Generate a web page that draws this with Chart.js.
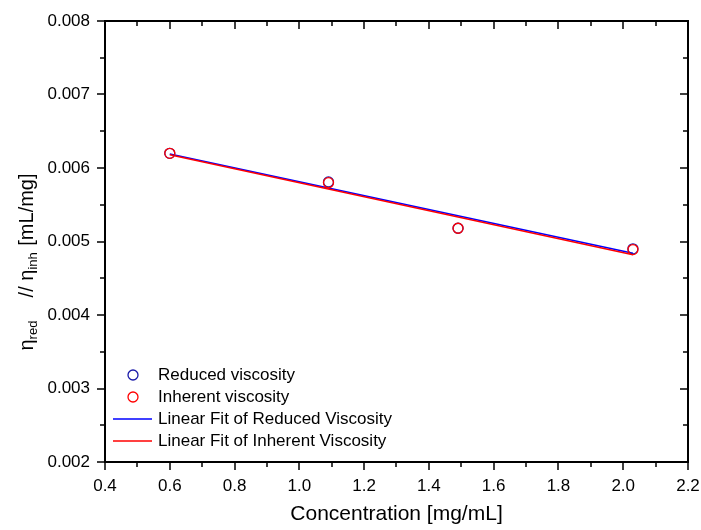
<!DOCTYPE html>
<html>
<head>
<meta charset="utf-8">
<script src="https://cdn.jsdelivr.net/npm/chart.js@4"></script>
<style>
  html, body { margin: 0; padding: 0; background: #fff; }
  #wrap { width: 701px; height: 530px; }
</style>
</head>
<body>
<div id="wrap"><canvas id="viscChart" width="701" height="530"></canvas></div>
<script>
// Datos
const concentration = [0.6, 1.09, 1.49, 2.03];
const reducedVisc = [0.00620, 0.00581, 0.00518, 0.00490];
const inherentVisc = [0.00620, 0.00580, 0.00518, 0.00489];

// Extremos de las rectas de ajuste
const fitX = [0.6, 2.03];
const reducedFit = [0.00619, 0.00484];
const inherentFit = [0.00618, 0.00482];

const xTicks = [0.4, 0.6, 0.8, 1.0, 1.2, 1.4, 1.6, 1.8, 2.0, 2.2];
const yTicks = [0.002, 0.003, 0.004, 0.005, 0.006, 0.007, 0.008];

const legendLabels = ['Reduced viscosity', 'Inherent viscosity',
    'Linear Fit of Reduced Viscosity', 'Linear Fit of Inherent Viscosity'];

const FONT = 'Arial, "Liberation Sans", sans-serif';
const BLUE = '#0000ff';
const NAVY = '#1a1aa8';
const RED = '#ff0000';

function toPoints(xs, ys) {
    return xs.map((x, i) => ({ x: x, y: ys[i] }));
}

// Marco, marcas mayores y menores en los cuatro lados
const framePlugin = {
    id: 'frame',
    afterDraw(chart) {
        const ctx = chart.ctx;
        const a = chart.chartArea;
        const xs = chart.scales.x, ys = chart.scales.y;
        ctx.save();
        ctx.strokeStyle = '#000';
        ctx.lineWidth = 2;
        ctx.strokeRect(a.left, a.top, a.right - a.left, a.bottom - a.top);

        const major = 8, minor = 5;
        ctx.lineWidth = 1.5;
        ctx.beginPath();
        xTicks.forEach((v, i) => {
            const px = Math.round(xs.getPixelForValue(v));
            ctx.moveTo(px, a.bottom); ctx.lineTo(px, a.bottom + major);
            ctx.moveTo(px, a.top); ctx.lineTo(px, a.top + major);
            if (i < xTicks.length - 1) {
                const mx = Math.round(xs.getPixelForValue((v + xTicks[i + 1]) / 2));
                ctx.moveTo(mx, a.bottom); ctx.lineTo(mx, a.bottom + minor);
                ctx.moveTo(mx, a.top); ctx.lineTo(mx, a.top + minor);
            }
        });
        yTicks.forEach((v, i) => {
            const py = Math.round(ys.getPixelForValue(v));
            ctx.moveTo(a.left, py); ctx.lineTo(a.left - major, py);
            ctx.moveTo(a.right, py); ctx.lineTo(a.right - major, py);
            if (i < yTicks.length - 1) {
                const my = Math.round(ys.getPixelForValue((v + yTicks[i + 1]) / 2));
                ctx.moveTo(a.left, my); ctx.lineTo(a.left - minor, my);
                ctx.moveTo(a.right, my); ctx.lineTo(a.right - minor, my);
            }
        });
        ctx.stroke();
        ctx.restore();
    }
};

// Leyenda dentro del área del gráfico (abajo a la izquierda)
const legendPlugin = {
    id: 'innerLegend',
    afterDraw(chart) {
        const ctx = chart.ctx;
        const a = chart.chartArea;
        const x0 = a.left;
        const rowY = [a.bottom - 87, a.bottom - 65, a.bottom - 43, a.bottom - 21];
        ctx.save();
        ctx.lineWidth = 1.3;
        ctx.strokeStyle = NAVY;
        ctx.beginPath(); ctx.arc(x0 + 28, rowY[0], 5, 0, Math.PI * 2); ctx.stroke();
        ctx.strokeStyle = RED;
        ctx.beginPath(); ctx.arc(x0 + 28, rowY[1], 5, 0, Math.PI * 2); ctx.stroke();
        ctx.lineWidth = 1.5;
        ctx.strokeStyle = BLUE;
        ctx.beginPath(); ctx.moveTo(x0 + 8, rowY[2]); ctx.lineTo(x0 + 47, rowY[2]); ctx.stroke();
        ctx.strokeStyle = RED;
        ctx.beginPath(); ctx.moveTo(x0 + 8, rowY[3]); ctx.lineTo(x0 + 47, rowY[3]); ctx.stroke();

        ctx.fillStyle = '#000';
        ctx.font = '17px ' + FONT;
        ctx.textBaseline = 'middle';
        ctx.textAlign = 'left';
        legendLabels.forEach((t, i) => ctx.fillText(t, x0 + 53, rowY[i]));
        ctx.restore();
    }
};

// Título del eje Y con subíndices
const yTitlePlugin = {
    id: 'yTitle',
    afterDraw(chart) {
        const ctx = chart.ctx;
        const parts = [
            { t: 'η', sub: false },
            { t: 'red', sub: true },
            { t: '    // η', sub: false },
            { t: 'inh', sub: true },
            { t: ' [mL/mg]', sub: false }
        ];
        const big = '20px ' + FONT, small = '13px ' + FONT;
        ctx.save();
        ctx.fillStyle = '#000';
        ctx.textBaseline = 'alphabetic';
        ctx.textAlign = 'left';
        let total = 0;
        parts.forEach(p => { ctx.font = p.sub ? small : big; total += ctx.measureText(p.t).width + (p.sub ? 1 : 0); });
        const cy = 262;
        ctx.translate(33, cy + total / 2);
        ctx.rotate(-Math.PI / 2);
        let u = 0;
        parts.forEach(p => {
            ctx.font = p.sub ? small : big;
            ctx.fillText(p.t, u, p.sub ? 4 : 0);
            u += ctx.measureText(p.t).width + (p.sub ? 1 : 0);
        });
        ctx.restore();
    }
};

const viscChart = new Chart(document.getElementById('viscChart'), {
    type: 'scatter',
    data: {
        datasets: [{
            label: 'Linear Fit of Reduced Viscosity',
            data: toPoints(fitX, reducedFit),
            showLine: true,
            borderColor: BLUE,
            borderWidth: 1.5,
            pointRadius: 0,
            order: 4
        }, {
            label: 'Linear Fit of Inherent Viscosity',
            data: toPoints(fitX, inherentFit),
            showLine: true,
            borderColor: RED,
            borderWidth: 1.5,
            pointRadius: 0,
            order: 3
        }, {
            label: 'Reduced viscosity',
            data: toPoints(concentration, reducedVisc),
            borderColor: NAVY,
            backgroundColor: 'rgba(0,0,0,0)',
            pointRadius: 5,
            pointBorderWidth: 1.3,
            order: 2
        }, {
            label: 'Inherent viscosity',
            data: toPoints(concentration, inherentVisc),
            borderColor: RED,
            backgroundColor: 'rgba(0,0,0,0)',
            pointRadius: 5,
            pointBorderWidth: 1.3,
            order: 1
        }]
    },
    options: {
        responsive: false,
        animation: false,
        layout: { padding: { left: 0, top: 21, right: 13, bottom: 0 } },
        plugins: {
            legend: { display: false },
            tooltip: { enabled: false }
        },
        scales: {
            x: {
                type: 'linear',
                min: 0.4,
                max: 2.2,
                grid: { display: false, drawTicks: false, tickLength: 0 },
                border: { display: false },
                afterFit(scale) {
                    scale.height = 68;
                    scale.paddingLeft = 0;
                    scale.paddingRight = 0;
                },
                afterBuildTicks(scale) { scale.ticks = xTicks.map(v => ({ value: v })); },
                ticks: {
                    color: '#000',
                    font: { family: FONT, size: 17 },
                    padding: 14,
                    maxRotation: 0,
                    callback: v => v.toFixed(1)
                },
                title: {
                    display: true,
                    text: 'Concentration [mg/mL]',
                    color: '#000',
                    font: { family: FONT, size: 21 },
                    padding: { top: 4, bottom: 3 }
                }
            },
            y: {
                type: 'linear',
                min: 0.002,
                max: 0.008,
                grid: { display: false, drawTicks: false, tickLength: 0 },
                border: { display: false },
                afterFit(scale) {
                    scale.width = 105;
                    scale.paddingTop = 0;
                    scale.paddingBottom = 0;
                },
                afterBuildTicks(scale) { scale.ticks = yTicks.map(v => ({ value: v })); },
                ticks: {
                    color: '#000',
                    font: { family: FONT, size: 17 },
                    padding: 15,
                    callback: v => v.toFixed(3)
                }
            }
        }
    },
    plugins: [framePlugin, legendPlugin, yTitlePlugin]
});
</script>
</body>
</html>
